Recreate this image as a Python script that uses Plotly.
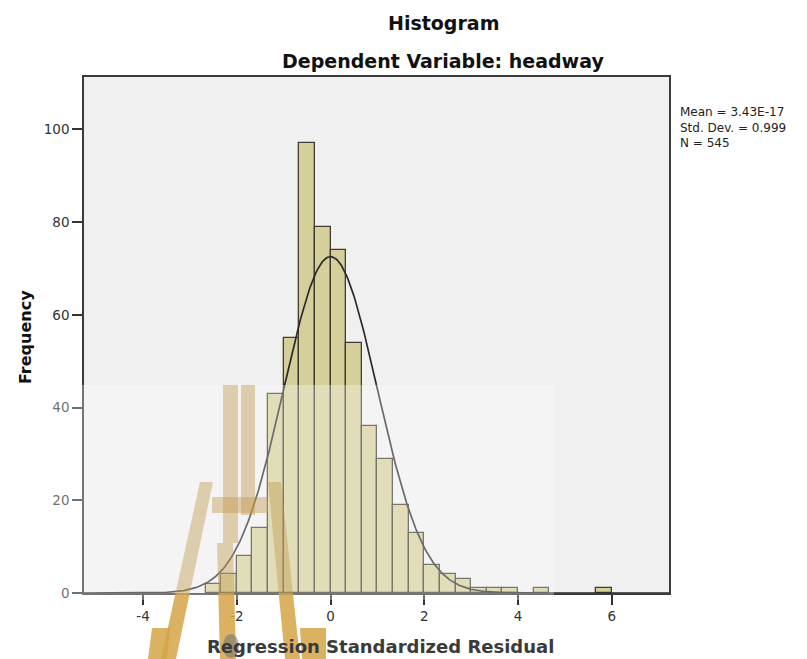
import numpy as np
import plotly.graph_objects as go

# ---- data ----
bin_width = 1 / 3
first_edge = -8 / 3
counts = [2, 4, 8, 14, 43, 55, 97, 79, 74, 54, 36, 29, 19, 13,
          6, 4, 3, 1, 1, 1, 0, 1, 0, 0, 0, 1]
mean_val = 3.43e-17
sd_val = 0.999
n_obs = 545
x_ticks = [-4, -2, 0, 2, 4, 6]
y_ticks = [0, 20, 40, 60, 80, 100]
stats_lines = ["Mean = 3.43E-17", "Std. Dev. = 0.999", "N = 545"]

# ---- layout geometry (pixels) ----
W, H = 807, 659
L, R, T, B = 84, 669, 77, 593
PW, PH = R - L, B - T


def to_paper(px, py):
    return ((px - L) / PW, (B - py) / PH)


centers = [first_edge + (i + 0.5) * bin_width for i in range(len(counts))]
bx = [c for c, n in zip(centers, counts) if n > 0]
by = [n for n in counts if n > 0]

# fitted normal curve from the reported mean / sd / N
xs = np.linspace(-5.26, 7.22, 500)
ys = n_obs * bin_width * np.exp(-0.5 * ((xs - mean_val) / sd_val) ** 2) / (sd_val * np.sqrt(2 * np.pi))

fig = go.Figure()
fig.add_trace(go.Bar(
    x=bx, y=by, width=bin_width,
    marker=dict(color="#d4cf9b", line=dict(color="#3e3d30", width=1.3)),
    hoverinfo="x+y",
))
fig.add_trace(go.Scatter(
    x=xs, y=ys, mode="lines",
    line=dict(color="#2a2a2a", width=1.7),
    hoverinfo="skip",
))

TXT = "DejaVu Sans"

fig.update_layout(
    width=W, height=H,
    margin=dict(l=L, r=W - R, t=T, b=H - B, pad=0),
    paper_bgcolor="white",
    plot_bgcolor="#f0f0f0",
    showlegend=False,
    bargap=0,
    font=dict(family=TXT, color="#333333"),
)
fig.update_xaxes(
    range=[-5.26, 7.22], tickvals=x_ticks, ticktext=[str(v) for v in x_ticks],
    ticks="outside", ticklen=10, tickwidth=1.6, tickcolor="#333333",
    tickfont=dict(family=TXT, size=13.5, color="#333333"),
    showline=True, linecolor="#3a3a3a", linewidth=1.6, mirror=True,
    showgrid=False, zeroline=False,
)
fig.update_yaxes(
    range=[0, 111.3], tickvals=y_ticks, ticktext=[str(v) for v in y_ticks],
    ticks="outside", ticklen=10, tickwidth=1.6, tickcolor="#333333",
    tickfont=dict(family=TXT, size=13.5, color="#333333"),
    showline=True, linecolor="#3a3a3a", linewidth=1.6, mirror=True,
    showgrid=False, zeroline=False,
)

ann = []
ann.append(dict(text="<b>Histogram</b>", xref="paper", yref="paper",
                x=0.614, y=1.1054, xanchor="center", yanchor="middle",
                showarrow=False, font=dict(family=TXT, size=19, color="#111111")))
ann.append(dict(text="<b>Dependent Variable: headway</b>", xref="paper", yref="paper",
                x=0.614, y=1.031, xanchor="center", yanchor="middle",
                showarrow=False, font=dict(family=TXT, size=19, color="#111111")))
ann.append(dict(text="<b>Regression Standardized Residual</b>", xref="paper", yref="paper",
                x=(380 - L) / PW, y=-0.104, xanchor="center", yanchor="middle",
                showarrow=False, font=dict(family=TXT, size=18, color="#3a3a3a")))
ann.append(dict(text="<b>Frequency</b>", xref="paper", yref="paper",
                x=(25 - L) / PW, y=0.496, xanchor="center", yanchor="middle",
                textangle=-90, showarrow=False,
                font=dict(family=TXT, size=16, color="#111111")))
# statistics block to the right of the plot
ann.append(dict(text="<br>".join(stats_lines), xref="paper", yref="paper",
                x=(678 - L) / PW, y=(B - 128) / PH, xanchor="left", yanchor="middle",
                align="left", showarrow=False,
                font=dict(family=TXT, size=12, color="#222222")))
fig.update_layout(annotations=ann)

# ---- translucent emblem overlay ----
def clip(poly, keep_upper):
    out = []
    n = len(poly)
    inside = (lambda p: p[1] <= B) if keep_upper else (lambda p: p[1] >= B)
    for i in range(n):
        cur, prv = poly[i], poly[i - 1]
        ci, pi = inside(cur), inside(prv)
        if ci != pi:
            t = (B - prv[1]) / (cur[1] - prv[1])
            out.append((prv[0] + t * (cur[0] - prv[0]), B))
        if ci:
            out.append(cur)
    return out


def path_of(poly):
    pts = [to_paper(x, y) for x, y in poly]
    return "M " + " L ".join(f"{x:.5f},{y:.5f}" for x, y in pts) + " Z"


shapes = []
# pale veil
x0, y0 = to_paper(0, 385)
x1, y1 = to_paper(554, 600)
shapes.append(dict(type="rect", xref="paper", yref="paper", x0=x0, y0=y1, x1=x1, y1=y0,
                   fillcolor="rgba(255,255,255,0.3)", line=dict(width=0), layer="above"))

emblem = [
    [(223, 385), (238, 385), (238, 543), (223, 543)],
    [(241, 385), (255, 385), (255, 515), (241, 515)],
    [(212, 497), (268, 497), (268, 513), (212, 513)],
    [(200, 482), (213, 482), (176, 659), (161, 659)],
    [(268, 482), (281, 482), (300, 659), (285, 659)],
    [(217, 543), (233, 543), (236, 659), (220, 659)],
    [(152, 628), (170, 628), (167, 659), (148, 659)],
    [(300, 628), (326, 628), (326, 659), (302, 659)],
]
for poly in emblem:
    up = clip(poly, True)
    lo = clip(poly, False)
    if len(up) >= 3:
        shapes.append(dict(type="path", xref="paper", yref="paper", path=path_of(up),
                           fillcolor="rgba(190,150,75,0.42)", line=dict(width=0), layer="above"))
    if len(lo) >= 3:
        shapes.append(dict(type="path", xref="paper", yref="paper", path=path_of(lo),
                           fillcolor="rgba(212,165,70,0.85)", line=dict(width=0), layer="above"))

ex0, ey0 = to_paper(223, 634)
ex1, ey1 = to_paper(239, 658)
shapes.append(dict(type="circle", xref="paper", yref="paper", x0=ex0, y0=ey1, x1=ex1, y1=ey0,
                   fillcolor="rgba(120,120,120,0.6)", line=dict(width=0), layer="above"))

fig.update_layout(shapes=shapes)

fig.write_html("out.html")
